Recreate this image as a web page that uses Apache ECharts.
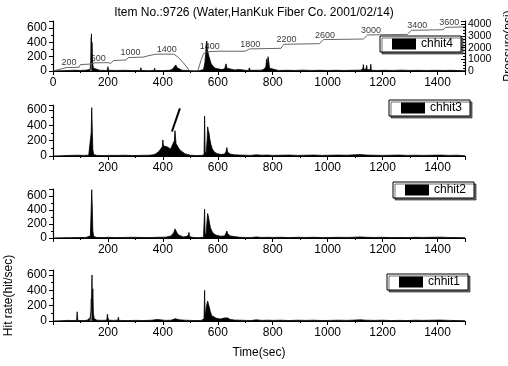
<!DOCTYPE html>
<html><head><meta charset="utf-8">
<script src="https://cdn.jsdelivr.net/npm/echarts@6/dist/echarts.min.js"></script>
<style>html,body{margin:0;padding:0;background:#fff}#c{width:508px;height:366px}</style>
</head><body><div id="c"></div>
<script>
const titleText = 'Item No.:9726 (Water,HanKuk Fiber Co. 2001/02/14)';
const channelNames = ['chhit4', 'chhit3', 'chhit2', 'chhit1'];

// [time (sec), hit rate (hit/sec)]
const chhit4 = [[0,0],[20,3],[40,5],[60,8],[80,10],[100,8],[120,12],[135,20],[138,150],[140,520],[141,120],[142,400],[143,200],[145,90],[147,40],[150,15],[170,10],[190,8],[198,10],[200,60],[202,10],[230,8],[260,10],[262,35],[264,8],[290,6],[318,8],[320,45],[322,8],[350,5],[368,8],[370,40],[372,8],[400,6],[425,10],[435,25],[442,50],[447,85],[452,45],[458,20],[470,10],[488,8],[490,35],[492,5],[510,3],[530,2],[548,20],[553,120],[556,250],[558,380],[560,420],[562,300],[565,250],[568,200],[572,150],[576,100],[582,70],[590,40],[600,30],[615,20],[625,30],[630,100],[633,40],[640,20],[660,15],[678,20],[680,40],[683,15],[700,10],[712,8],[715,45],[718,10],[740,10],[760,12],[770,30],[775,60],[778,170],[780,60],[783,200],[786,120],[788,40],[795,15],[820,8],[850,10],[880,8],[910,12],[940,8],[970,10],[1000,8],[1030,10],[1060,8],[1090,10],[1120,12],[1128,30],[1130,90],[1132,20],[1140,30],[1142,80],[1144,20],[1155,15],[1157,95],[1159,10],[1180,8],[1210,10],[1240,8],[1270,12],[1300,8],[1330,10],[1360,8],[1390,10],[1420,8],[1450,10],[1480,6],[1500,5]];
const chhit4Gray = [[136,0],[138,470],[139,0]];
const chhit3 = [[0,0],[30,3],[60,8],[90,10],[110,8],[130,10],[136,30],[139,300],[141,630],[143,350],[145,80],[148,20],[160,8],[190,5],[198,8],[200,22],[203,6],[230,8],[260,10],[290,6],[320,8],[350,10],[365,15],[375,30],[385,60],[392,90],[398,120],[400,210],[402,130],[408,140],[415,120],[422,110],[428,90],[433,130],[438,150],[442,200],[444,330],[446,250],[448,160],[452,140],[458,100],[465,70],[472,45],[480,30],[490,20],[500,10],[520,6],[540,8],[550,15],[552,520],[554,30],[558,60],[561,200],[563,380],[565,340],[568,300],[571,220],[575,150],[580,90],[588,50],[598,30],[612,20],[625,25],[630,60],[633,110],[636,50],[645,25],[660,15],[680,12],[700,10],[720,8],[740,15],[760,10],[780,12],[800,8],[830,10],[860,12],[890,8],[920,10],[950,12],[980,8],[1010,10],[1040,12],[1070,10],[1100,15],[1120,18],[1140,12],[1170,10],[1200,8],[1230,10],[1260,12],[1290,8],[1320,10],[1350,8],[1380,10],[1410,12],[1440,8],[1470,10],[1500,5]];
const chhit2 = [[0,0],[30,3],[60,5],[90,6],[120,8],[136,30],[139,400],[141,690],[143,450],[145,100],[148,20],[160,8],[190,6],[198,10],[200,30],[203,8],[230,6],[260,8],[290,10],[320,8],[350,6],[380,10],[410,12],[430,30],[440,80],[444,130],[448,100],[452,70],[458,40],[465,25],[475,15],[485,20],[493,40],[495,80],[497,20],[510,8],[530,5],[548,10],[552,410],[554,20],[558,80],[561,250],[563,350],[566,300],[569,230],[573,150],[578,100],[585,60],[595,40],[610,25],[625,30],[630,70],[633,100],[636,60],[645,30],[660,20],[680,10],[700,8],[720,6],[740,15],[760,8],[780,10],[800,8],[830,10],[860,6],[890,10],[920,8],[950,10],[980,6],[1010,8],[1040,10],[1070,8],[1100,12],[1120,15],[1140,10],[1170,8],[1200,10],[1230,6],[1260,8],[1290,6],[1320,10],[1350,8],[1380,10],[1410,12],[1440,8],[1470,6],[1500,5]];
const chhit1 = [[0,0],[30,3],[50,8],[70,6],[86,8],[88,120],[90,8],[110,5],[125,10],[132,30],[136,50],[138,100],[140,170],[142,600],[143,180],[145,420],[147,100],[150,30],[160,10],[180,8],[196,10],[198,90],[200,40],[203,10],[220,8],[236,10],[238,50],[240,8],[270,5],[300,8],[330,6],[360,10],[380,20],[390,15],[410,8],[430,10],[445,30],[450,25],[460,15],[480,10],[500,8],[520,5],[540,8],[550,30],[552,400],[554,50],[558,180],[561,200],[563,260],[566,250],[569,180],[573,120],[578,70],[585,45],[595,35],[610,25],[625,40],[632,60],[636,40],[645,20],[660,12],[680,10],[700,8],[720,6],[740,15],[760,8],[780,10],[800,8],[830,10],[860,6],[890,10],[920,8],[950,10],[980,6],[1010,8],[1040,10],[1070,8],[1100,12],[1120,15],[1140,10],[1170,8],[1200,10],[1230,6],[1260,8],[1290,6],[1320,10],[1350,8],[1380,10],[1410,12],[1440,8],[1470,6],[1500,5]];
const chhit1Gray = [[135,0],[137,290],[140,290],[141,0]];

// Pressure (psi) on the top panel
const pressureTime = [0,25,50,95,100,140,150,200,210,220,265,275,330,345,375,440,455,475,498,527,540,548,560,600,700,715,830,840,970,985,1130,1145,1290,1305,1420,1430,1500];
const pressurePsi  = [0,150,300,320,550,600,700,720,650,900,950,1150,1200,1300,1450,1450,1200,700,0,0,1000,1500,1650,1700,1700,1900,1950,2300,2350,2700,2750,3100,3150,3500,3550,3750,3800];
const pressureLabelTime = [58,165,282,414,571,718,850,990,1158,1326,1443];
const pressureLabelPsi  = [320,720,1200,1450,1680,1900,2300,2700,3100,3500,3780];
const pressureLabelText = ['200','600','1000','1400','1400','1800','2200','2600','3000','3400','3600'];

const arrowFrom = [462, 620];
const arrowTo = [433, 320];

const xTickStep = 200;
const hitTickStep = 200;
const psiTickStep = 1000;

const FF = '"Liberation Sans", Arial, sans-serif';
const chart = echarts.init(document.getElementById('c'), null, {renderer: 'canvas'});

const panels = [
  {top: 21, height: 50, max: 700, legLeft: 380, legTop: 36},
  {top: 105, height: 51, max: 665, legLeft: 389, legTop: 100},
  {top: 189, height: 49, max: 700, legLeft: 393, legTop: 182},
  {top: 270, height: 51, max: 665, legLeft: 387, legTop: 274}
];
const channelData = [chhit4, chhit3, chhit2, chhit1];

const axisLine = {lineStyle: {color: '#000', width: 1.2}};
const grids = panels.map(p => ({left: 53, right: 43, top: p.top, height: p.height,
  containLabel: false, outerBoundsMode: 'none'}));
const xAxes = panels.map((p, i) => ({
  type: 'value', gridIndex: i, min: 0, max: 1500, interval: xTickStep,
  axisLine: {...axisLine, onZero: false},
  axisTick: {length: 4, lineStyle: {color: '#000'}},
  minorTick: {show: true, splitNumber: 2, length: 2, lineStyle: {color: '#000'}},
  splitLine: {show: false},
  axisLabel: {color: '#000', fontSize: 12, fontFamily: FF, margin: 6,
    formatter: v => (v % xTickStep !== 0 || (i > 0 && v === 0)) ? '' : String(v)},
  name: i === 3 ? 'Time(sec)' : '', nameLocation: 'middle', nameGap: 26,
  nameTextStyle: {color: '#000', fontSize: 12, fontFamily: FF}
}));
const yAxes = panels.map((p, i) => ({
  type: 'value', gridIndex: i, min: 0, max: p.max, interval: hitTickStep,
  axisLine: {show: true, ...axisLine},
  axisTick: {show: true, length: 4, lineStyle: {color: '#000'}},
  minorTick: {show: true, splitNumber: 2, length: 2, lineStyle: {color: '#000'}},
  splitLine: {show: false},
  axisLabel: {color: '#000', fontSize: 12, fontFamily: FF, margin: 6,
    formatter: v => (v % hitTickStep !== 0) ? '' : String(v)},
  name: i === 3 ? 'Hit rate(hit/sec)' : '', nameLocation: 'middle', nameGap: 38,
  nameTextStyle: {color: '#000', fontSize: 12, fontFamily: FF}
}));
yAxes.push({
  type: 'value', gridIndex: 0, position: 'right', min: 0, max: 4300, interval: psiTickStep,
  axisLine: {show: true, ...axisLine},
  axisTick: {show: true, length: 4, inside: true, lineStyle: {color: '#000'}},
  minorTick: {show: true, splitNumber: 4, length: 2, lineStyle: {color: '#000'}},
  splitLine: {show: false},
  axisLabel: {color: '#000', fontSize: 10.5, lineHeight: 9, fontFamily: FF, margin: 3,
    interval: 0, hideOverlap: false, showMinLabel: true, showMaxLabel: false,
    formatter: v => (v % psiTickStep !== 0) ? '' : String(v)},
  name: 'Pressure(psi)', nameLocation: 'middle', nameGap: 18, nameRotate: 90,
  nameTextStyle: {color: '#000', fontSize: 12, fontFamily: FF}
});

const series = [];
const area = (name, data, i, color) => ({
  name, type: 'line', xAxisIndex: i, yAxisIndex: i, data, symbol: 'none',
  lineStyle: {color, width: 0.8}, areaStyle: {color, opacity: 1},
  itemStyle: {color}, silent: true, animation: false, z: 3
});
series.push(area('chhit4 gray', chhit4Gray, 0, '#9a9a9a'));
series.push(area('chhit1 gray', chhit1Gray, 3, '#9a9a9a'));
channelData.forEach((d, i) => {
  const s = area(channelNames[i], d, i, '#000');
  if (i === 1) {
    s.markLine = {
      silent: true, symbol: ['none', 'arrow'], symbolSize: [0, 9],
      lineStyle: {color: '#000', width: 2, type: 'solid'}, label: {show: false},
      data: [[{coord: arrowFrom}, {coord: arrowTo}]]
    };
  }
  series.push(s);
});
series.push({
  name: 'Pressure', type: 'line', xAxisIndex: 0, yAxisIndex: 4,
  data: pressureTime.map((t, k) => [t, pressurePsi[k]]),
  symbol: 'none', lineStyle: {color: '#555', width: 0.9}, animation: false, z: 4
});
series.push({
  name: 'PressureLabels', type: 'scatter', xAxisIndex: 0, yAxisIndex: 4,
  data: pressureLabelTime.map((t, k) => [t, pressureLabelPsi[k], pressureLabelText[k]]),
  symbolSize: 0, animation: false, z: 5,
  label: {show: true, position: 'top', distance: 0, color: '#000', fontSize: 9, fontFamily: FF,
    formatter: p => p.value[2]}
});

const legends = panels.map((p, i) => ({
  data: [{name: channelNames[i], icon: 'rect'}],
  left: p.legLeft, top: p.legTop, orient: 'horizontal',
  itemWidth: 24, itemHeight: 11, padding: [2, 8, 2, 12],
  borderColor: '#000', borderWidth: 1, backgroundColor: '#fff',
  shadowColor: 'rgba(0,0,0,0.55)', shadowOffsetX: 2, shadowOffsetY: 2, shadowBlur: 0,
  selectedMode: false,
  textStyle: {color: '#000', fontSize: 12, fontFamily: FF}
}));

chart.setOption({
  animation: false,
  backgroundColor: '#fff',
  title: {text: titleText, left: 'center', top: 7, padding: 0,
    textStyle: {color: '#000', fontSize: 12, fontWeight: 'normal', fontFamily: FF}},
  grid: grids, xAxis: xAxes, yAxis: yAxes, legend: legends, series
});
</script></body></html>
